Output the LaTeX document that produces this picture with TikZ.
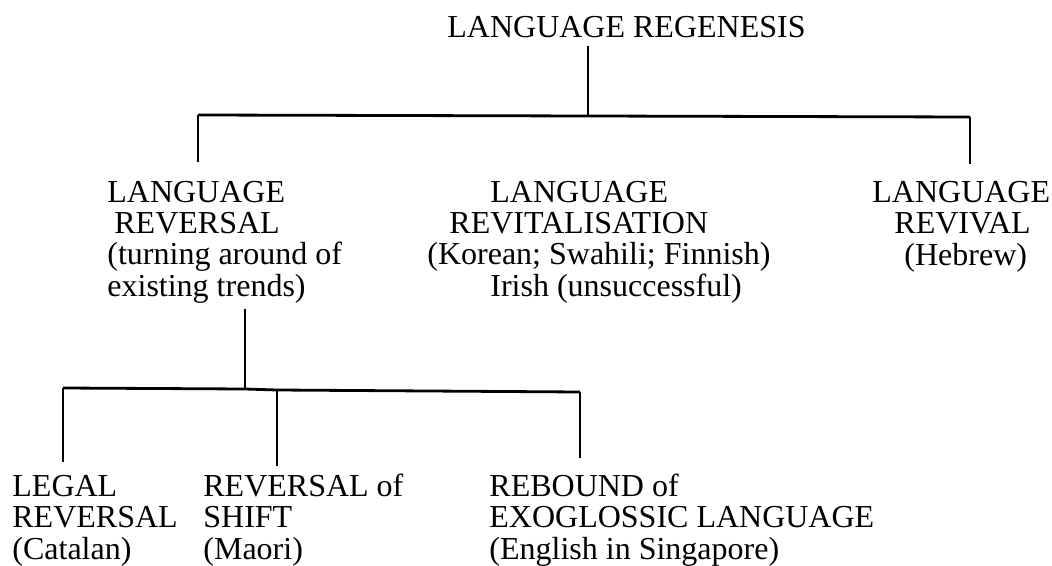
\documentclass[tikz,border=0pt]{standalone}
\usepackage{fontspec}
\setmainfont{Liberation Serif}
\tikzset{
  block/.style={anchor=base west, inner sep=0pt, align=left,
    font=\fontsize{16}{15.6}\selectfont},
  branch/.style={line width=0.9pt},
  bar/.style={line width=1.4pt},
}
\begin{document}
\begin{tikzpicture}[x=0.5pt,y=-0.5pt]
\useasboundingbox (0,0) rectangle (1052,566);
% title
\node[block] (regenesis) at (447,38) {LANGUAGE REGENESIS};
% first level (base = last line)
\node[block] (reversal) at (107,296) {LANGUAGE\\\hspace{3.5pt}REVERSAL\\(turning around of\\existing trends)};
\node[block] (revitalisation) at (427,296) {\hspace{31.5pt}LANGUAGE\\\hspace{11pt}REVITALISATION\\(Korean; Swahili; Finnish)\\\hspace{31.5pt}Irish (unsuccessful)};
\node[block] (revival) at (872,265) {LANGUAGE\\\hspace{11pt}REVIVAL\\\hspace{16pt}(Hebrew)};
% second level
\node[block] (legal) at (12,559) {LEGAL\\REVERSAL\\(Catalan)};
\node[block] (shift) at (203,559) {REVERSAL of\\SHIFT\\(Maori)};
\node[block] (rebound) at (489,559) {REBOUND of\\EXOGLOSSIC LANGUAGE\\(English in Singapore)};
% joints
\coordinate (top joint) at (588,116);
\coordinate (reversal joint) at (198,115);
\coordinate (revival joint) at (970,117);
\coordinate (low joint) at (245,389);
\coordinate (legal joint) at (63,388);
\coordinate (shift joint) at (277,390);
\coordinate (rebound joint) at (580,392);
% upper tree
\draw[branch] ([yshift=-3.5pt]regenesis.south -| top joint) -- (top joint);
\draw[bar] (reversal joint) -- (top joint) -- (revival joint);
\draw[branch] (reversal joint) -- ([yshift=9.5pt]reversal.north -| reversal joint);
\draw[branch] (revival joint) -- ([yshift=8.5pt]revival.north -| revival joint);
% lower tree
\draw[branch] ([yshift=-3pt]reversal.south -| low joint) -- (low joint);
\draw[bar] (legal joint) -- (low joint) -- (shift joint) -- (rebound joint);
\draw[branch] (legal joint) -- ([yshift=6.5pt]legal.north -| legal joint);
\draw[branch] (shift joint) -- ([yshift=4pt]shift.north -| shift joint);
\draw[branch] (rebound joint) -- ([yshift=8pt]rebound.north -| rebound joint);
\end{tikzpicture}
\end{document}
